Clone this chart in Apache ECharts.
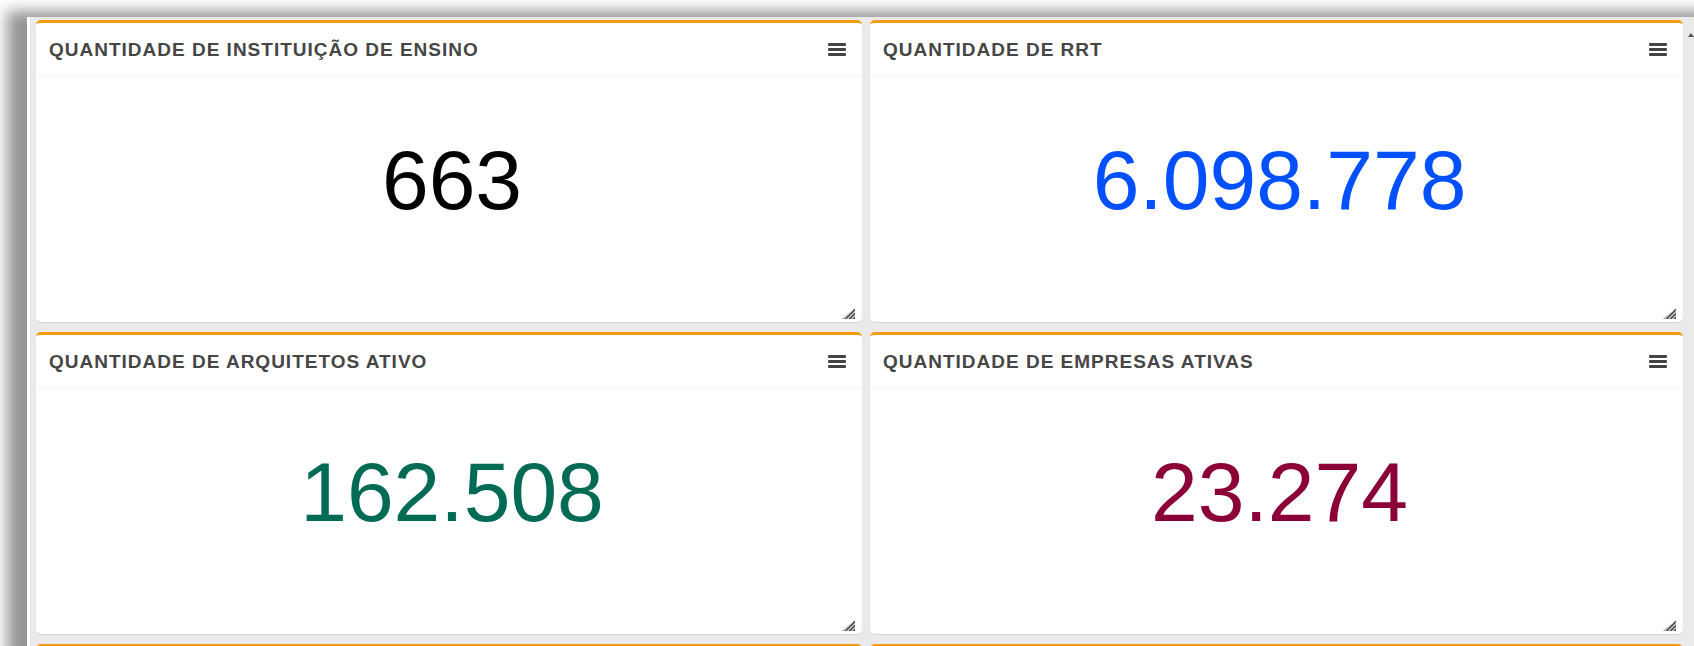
<!DOCTYPE html>
<html>
<head>
<meta charset="utf-8">
<script src="https://cdn.jsdelivr.net/npm/echarts@6/dist/echarts.min.js"></script>
<style>
html,body{margin:0;padding:0;width:1694px;height:646px;overflow:hidden;background:#fff;font-family:"Liberation Sans",Arial,sans-serif;}
#frame{position:absolute;left:27px;top:17px;width:1720px;height:700px;background:#eaeaea;border-left:3px solid #fff;box-sizing:border-box;box-shadow:-20px -6px 14px rgba(0,0,0,0.42);}
.card{position:absolute;box-sizing:border-box;background:#fff;border-top:3px solid #f39c12;border-radius:5px;box-shadow:0 1px 1px rgba(0,0,0,0.1);}
.hdr{position:absolute;left:0;right:0;top:0;height:52px;border-bottom:1px solid #f2f2f2;}
.ttl{position:absolute;left:13px;top:17px;font-weight:bold;font-size:19px;line-height:19px;letter-spacing:1px;color:#464646;white-space:nowrap;}
.menu{position:absolute;right:16px;top:20px;width:18px;height:13px;}
.menu i{position:absolute;left:0;width:18px;height:3px;background:#444;border-radius:1px;}
.body{position:absolute;left:0;right:0;top:53px;bottom:0;}
.grip{position:absolute;right:7px;bottom:3px;width:13px;height:11px;clip-path:polygon(100% 0,100% 100%,0 100%);background:repeating-linear-gradient(-45deg,#555 0 1.5px,#bbb 1.5px 3px);}
#arrow{position:absolute;left:1688px;top:33px;width:0;height:0;border-left:3px solid transparent;border-right:3px solid transparent;border-bottom:4px solid #555;}
</style>
</head>
<body>
<div id="frame"></div>
<div id="arrow"></div>
<div id="cards"></div>
<script>
// ---- data ----
const titles = [
  "QUANTIDADE DE INSTITUIÇÃO DE ENSINO",
  "QUANTIDADE DE RRT",
  "QUANTIDADE DE ARQUITETOS ATIVO",
  "QUANTIDADE DE EMPRESAS ATIVAS"
];
const values = [663, 6098778, 162508, 23274];
const valueColors = ["#000000", "#0050ff", "#006b55", "#8b0037"];

// ---- layout (px) ----
const colLeft = [36, 870];
const colWidth = [826, 813];
const rowTop = [20, 332, 644];
const cardHeight = 302;

function fmt(n){ return String(n).replace(/\B(?=(\d{3})+(?!\d))/g, "."); }

const wrap = document.getElementById("cards");
const cardBoxes = [];
for (let r = 0; r < 3; r++) {
  for (let c = 0; c < 2; c++) {
    const idx = r * 2 + c;
    const card = document.createElement("div");
    card.className = "card";
    card.style.left = colLeft[c] + "px";
    card.style.top = rowTop[r] + "px";
    card.style.width = colWidth[c] + "px";
    card.style.height = cardHeight + "px";
    if (idx < titles.length) {
      card.innerHTML =
        '<div class="hdr"><div class="ttl"></div><div class="menu"><i style="top:0"></i><i style="top:5px"></i><i style="top:10px"></i></div></div>' +
        '<div class="body"></div><div class="grip"></div>';
      card.querySelector(".ttl").textContent = titles[idx];
      cardBoxes.push(card.querySelector(".body"));
    }
    wrap.appendChild(card);
  }
}

cardBoxes.forEach(function (el, i) {
  const chart = echarts.init(el, null, { renderer: "svg" });
  const w = el.clientWidth;
  chart.setOption({
    animation: false,
    graphic: [{
      type: "text",
      x: w / 2 + 3,
      y: 104,
      style: {
        text: fmt(values[i]),
        fill: valueColors[i],
        font: '84px "Liberation Sans", Arial, sans-serif',
        align: "center",
        verticalAlign: "middle"
      }
    }]
  });
});
</script>
</body>
</html>
